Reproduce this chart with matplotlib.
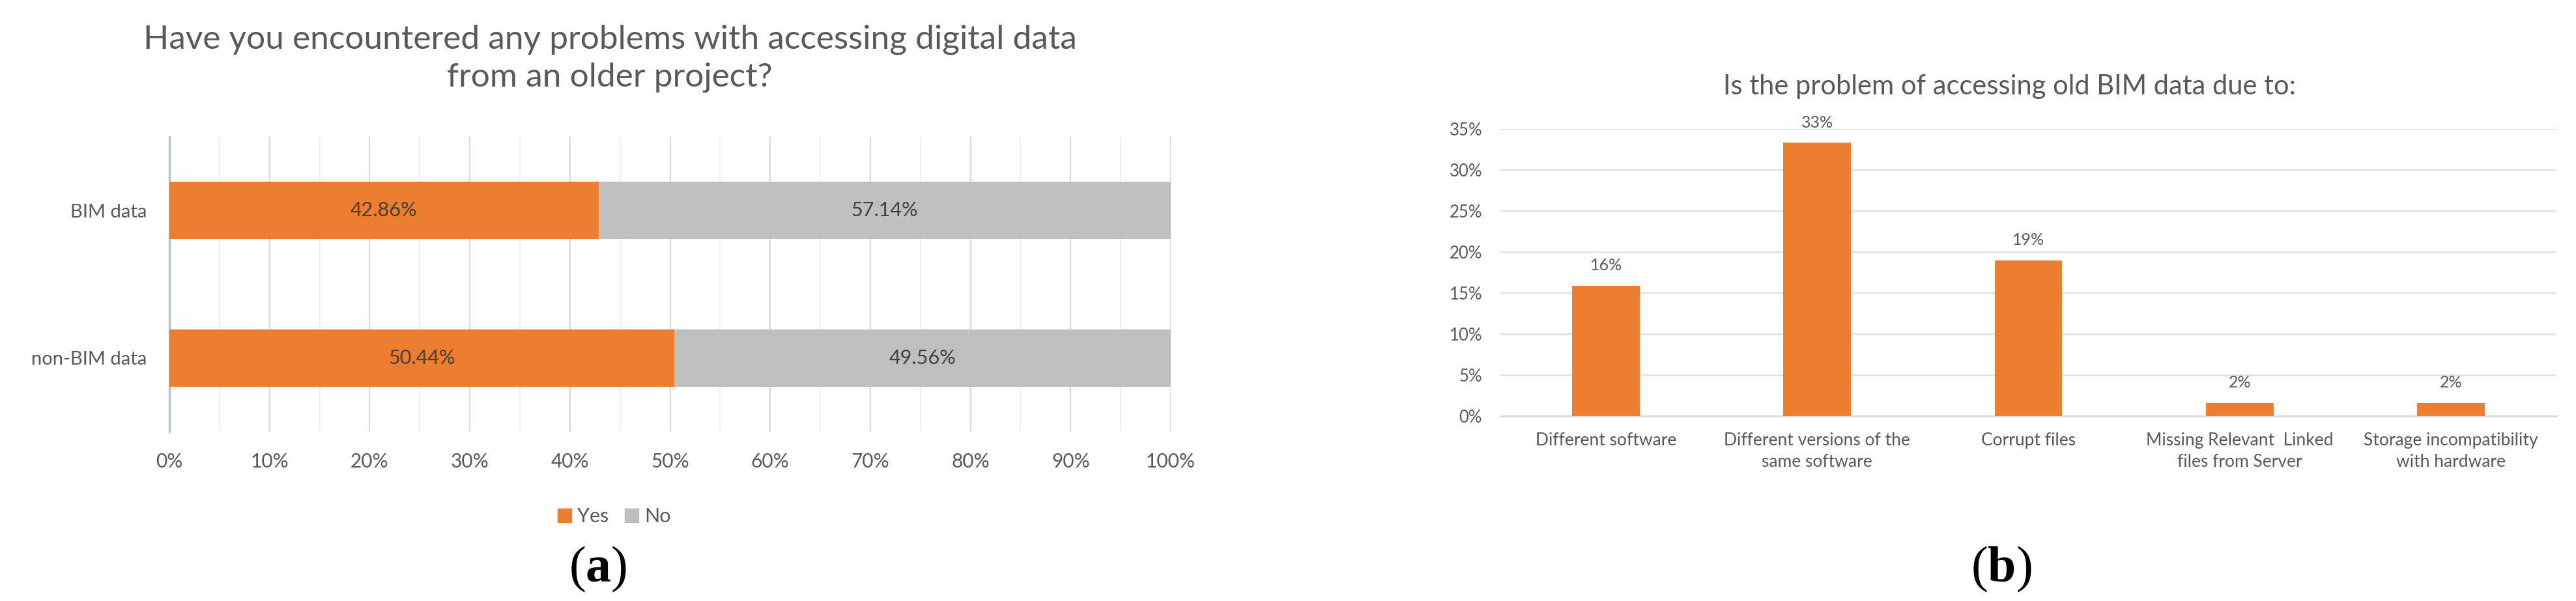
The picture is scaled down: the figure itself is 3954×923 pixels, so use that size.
import matplotlib.pyplot as plt
import numpy as np
from matplotlib.patches import Patch
from matplotlib.ticker import MultipleLocator, PercentFormatter

# panel (a) data
groups = ["non-BIM data", "BIM data"]
yes = [0.5044, 0.4286]
no = [0.4956, 0.5714]

# panel (b) data
causes = ["Different software", "Different versions of the\nsame software", "Corrupt files",
          "Missing Relevant  Linked\nfiles from Server", "Storage incompatibility\nwith hardware"]
shares = [0.159, 0.333, 0.19, 0.016, 0.016]

orange = "#ED7D31"
grey = "#BFBFBF"
txt = "#595959"
W, H = 3955, 923

plt.rcParams["font.family"] = ["Lato", "DejaVu Sans"]
plt.rcParams["mathtext.fontset"] = "custom"
plt.rcParams["mathtext.rm"] = "Liberation Serif"
plt.rcParams["mathtext.bf"] = "Liberation Serif:bold"

fig = plt.figure(figsize=(W / 100, H / 100), dpi=100)

# ---- (a) stacked horizontal bars
ax1 = fig.add_axes([260 / W, 1 - 663 / H, (1797 - 260) / W, (663 - 210) / H])
y = np.arange(len(groups))
b1 = ax1.barh(y, yes, height=0.39, color=orange, zorder=3)
b2 = ax1.barh(y, no, left=yes, height=0.39, color=grey, zorder=3)
for bars in (b1, b2):
    ax1.bar_label(bars, labels=[f"{v * 100:.2f}%" for v in bars.datavalues],
                  label_type="center", fontsize=22, color="#404040")
ax1.set_xlim(0, 1)
ax1.set_ylim(-0.5, 1.5)
ax1.set_yticks(y, groups)
ax1.xaxis.set_major_locator(MultipleLocator(0.1))
ax1.xaxis.set_minor_locator(MultipleLocator(0.05))
ax1.xaxis.set_major_formatter(PercentFormatter(1.0, decimals=0))
ax1.grid(axis="x", which="major", color="#d9d9d9", lw=1.6, zorder=0)
ax1.grid(axis="x", which="minor", color="#efefef", lw=1.4, zorder=0)
ax1.tick_params(axis="x", which="both", length=0, pad=23, labelsize=21.5, labelcolor=txt)
ax1.tick_params(axis="y", length=0, pad=25, labelsize=21, labelcolor=txt)
for s in ("top", "right", "bottom"):
    ax1.spines[s].set_visible(False)
ax1.spines["left"].set_color("#9DC3E6")
ax1.spines["left"].set_linewidth(2.2)

fig.text(936 / W, 1 - 90 / H,
         "Have you encountered any problems with accessing digital data\nfrom an older project?",
         ha="center", va="center", fontsize=37, color=txt, linespacing=1.3)
fig.legend(handles=[Patch(color=orange, label="Yes"), Patch(color=grey, label="No")],
           loc="center", bbox_to_anchor=(943 / W, 1 - 793 / H), ncol=2, frameon=False,
           fontsize=22, labelcolor=txt, handlelength=0.7, handleheight=0.7,
           handletextpad=0.3, columnspacing=0.8)

# ---- (b) simple bars
ax2 = fig.add_axes([2303 / W, 1 - 639 / H, (3924 - 2303) / W, (639 - 198) / H])
x = np.arange(len(causes))
b3 = ax2.bar(x, shares, width=0.32, color=orange, zorder=3)
ax2.bar_label(b3, labels=[f"{v:.0%}" for v in shares], padding=14, fontsize=18, color=txt)
ax2.set_xlim(-0.5, len(causes) - 0.5)
ax2.set_ylim(0, 0.35)
ax2.set_xticks(x, causes)
ax2.yaxis.set_major_locator(MultipleLocator(0.05))
ax2.yaxis.set_major_formatter(PercentFormatter(1.0, decimals=0))
ax2.grid(axis="y", color="#e3e3e3", lw=2, zorder=0)
ax2.tick_params(axis="x", length=0, pad=18, labelsize=19, labelcolor=txt)
ax2.tick_params(axis="y", length=0, pad=20, labelsize=18.5, labelcolor=txt)
for lab in ax2.get_xticklabels():
    lab.set_linespacing(1.4)
for s in ("top", "right", "left"):
    ax2.spines[s].set_visible(False)
ax2.spines["bottom"].set_color("#d9d9d9")
ax2.spines["bottom"].set_linewidth(2)

fig.text(3085 / W, 1 - 133 / H, "Is the problem of accessing old BIM data due to:",
         ha="center", va="center", fontsize=30, color=txt)

# panel letters
fig.text(918 / W, 1 - 874 / H, r"$(\mathbf{a})$", ha="center", va="center", fontsize=56)
fig.text(3072 / W, 1 - 874 / H, r"$(\mathbf{b})$", ha="center", va="center", fontsize=56)

fig.savefig("out.png", dpi=100)
